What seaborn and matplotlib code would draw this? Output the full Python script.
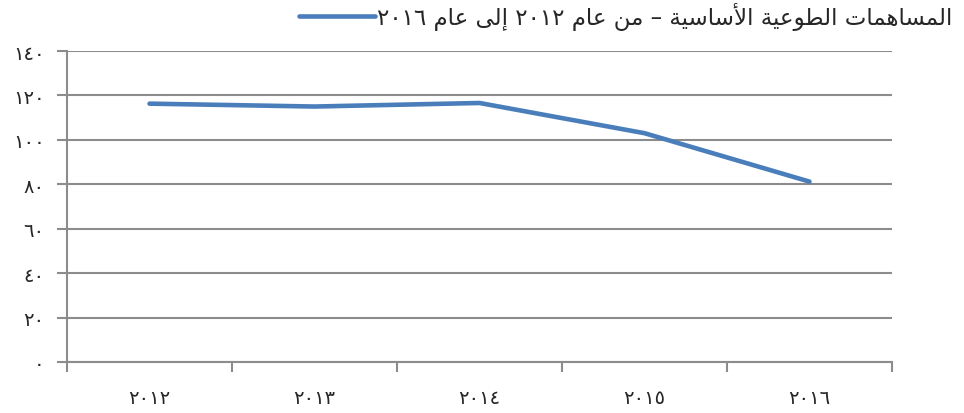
import matplotlib
matplotlib.use("Agg")
import matplotlib.pyplot as plt
import seaborn as sns
import pandas as pd
from matplotlib.ticker import FixedLocator, NullFormatter

# ---- data ----
years = ["٢٠١٢", "٢٠١٣", "٢٠١٤", "٢٠١٥", "٢٠١٦"]
values = [116.3, 115.0, 116.6, 103.0, 81.2]
y_ticks = [0, 20, 40, 60, 80, 100, 120, 140]
y_tick_labels = ["٠", "٢٠", "٤٠", "٦٠", "٨٠", "١٠٠", "١٢٠", "١٤٠"]
series_label = "المساهمات الطوعية الأساسية – من عام ٢٠١٢ إلى عام ٢٠١٦"

# ---- minimal Arabic shaping + visual ordering (matplotlib has no shaping) ----
FORMS = {
    'ا': ('\uFE8D', '\uFE8E', None, None),
    'أ': ('\uFE83', '\uFE84', None, None),
    'إ': ('\uFE87', '\uFE88', None, None),
    'ب': ('\uFE8F', '\uFE90', '\uFE91', '\uFE92'),
    'ة': ('\uFE93', '\uFE94', None, None),
    'ت': ('\uFE95', '\uFE96', '\uFE97', '\uFE98'),
    'س': ('\uFEB1', '\uFEB2', '\uFEB3', '\uFEB4'),
    'ط': ('\uFEC1', '\uFEC2', '\uFEC3', '\uFEC4'),
    'ع': ('\uFEC9', '\uFECA', '\uFECB', '\uFECC'),
    'ل': ('\uFEDD', '\uFEDE', '\uFEDF', '\uFEE0'),
    'م': ('\uFEE1', '\uFEE2', '\uFEE3', '\uFEE4'),
    'ن': ('\uFEE5', '\uFEE6', '\uFEE7', '\uFEE8'),
    'ه': ('\uFEE9', '\uFEEA', '\uFEEB', '\uFEEC'),
    'و': ('\uFEED', '\uFEEE', None, None),
    'ى': ('\uFEEF', '\uFEF0', None, None),
    'ي': ('\uFEF1', '\uFEF2', '\uFEF3', '\uFEF4'),
}
LAMALEF = {'ا': ('\uFEFB', '\uFEFC'), 'أ': ('\uFEF7', '\uFEF8'), 'إ': ('\uFEF9', '\uFEFA')}


def shape_arabic(text):
    toks = []
    i = 0
    while i < len(text):
        c = text[i]
        if c == 'ل' and i + 1 < len(text) and text[i + 1] in LAMALEF:
            iso, fin = LAMALEF[text[i + 1]]
            toks.append(('LA', (iso, fin, None, None)))
            i += 2
            continue
        if c in FORMS:
            toks.append((c, FORMS[c]))
        else:
            toks.append((c, None))
        i += 1

    def dual(t):
        return t[1] is not None and t[1][2] is not None

    def joinable(t):
        return t[1] is not None

    out = []
    for k, t in enumerate(toks):
        if t[1] is None:
            out.append(t[0])
            continue
        jp = k > 0 and dual(toks[k - 1])
        jn = dual(t) and k + 1 < len(toks) and joinable(toks[k + 1])
        iso, fin, ini, med = t[1]
        if jp and jn:
            out.append(med)
        elif jp:
            out.append(fin)
        elif jn:
            out.append(ini)
        else:
            out.append(iso)
    s = ''.join(out)[::-1]
    # re-reverse digit runs so numbers read left to right
    res, run = [], []
    for ch in s:
        if ch in '٠١٢٣٤٥٦٧٨٩0123456789':
            run.append(ch)
        else:
            if run:
                res.append(''.join(run[::-1]))
                run = []
            res.append(ch)
    if run:
        res.append(''.join(run[::-1]))
    return ''.join(res)


df = pd.DataFrame({"year": years, "value": values})

sns.set_style("white")
plt.rcParams['font.family'] = ['DejaVu Sans']

fig = plt.figure(figsize=(9.64, 4.14), dpi=100)
ax = fig.add_axes([67 / 964, 51 / 414, (892 - 67) / 964, (363 - 52) / 414])

grid_c = "#8c8c8c"
line_c = "#4A7EBB"

sns.lineplot(data=df, x="year", y="value", ax=ax, color=line_c, linewidth=3.3,
             sort=False, label=shape_arabic(series_label), legend=False)

ax.set_xlim(-0.5, len(years) - 0.5)
ax.set_ylim(0, 140)

# y axis
ax.set_yticks(y_ticks)
ax.set_yticklabels(y_tick_labels, fontsize=14)
ax.yaxis.grid(True, color=grid_c, linewidth=1.5)
ax.set_axisbelow(True)
ax.tick_params(axis='y', length=7, width=1.5, color=grid_c, pad=9, direction='out', left=True)

# x axis: ticks at category boundaries, labels at centres
ax.xaxis.set_major_locator(FixedLocator([i - 0.5 for i in range(len(years) + 1)]))
ax.xaxis.set_major_formatter(NullFormatter())
ax.xaxis.set_minor_locator(FixedLocator(list(range(len(years)))))
ax.set_xticklabels([shape_arabic(y) for y in years], minor=True, fontsize=14)
ax.tick_params(axis='x', which='major', length=7, width=1.5, color=grid_c, direction='out', bottom=True)
ax.tick_params(axis='x', which='minor', length=0, pad=19)

ax.set_xlabel("")
ax.set_ylabel("")
for side in ["top", "right"]:
    ax.spines[side].set_visible(False)
for side in ["left", "bottom"]:
    ax.spines[side].set_color(grid_c)
    ax.spines[side].set_linewidth(1.5)

handles, labels = ax.get_legend_handles_labels()
fig.legend(handles, labels, loc="upper right", bbox_to_anchor=(956 / 964, 1.0),
           frameon=False, fontsize=16.5, handlelength=3.3, handletextpad=0.1,
           borderaxespad=0.0, borderpad=0.15)

fig.savefig("out.png", dpi=100)
